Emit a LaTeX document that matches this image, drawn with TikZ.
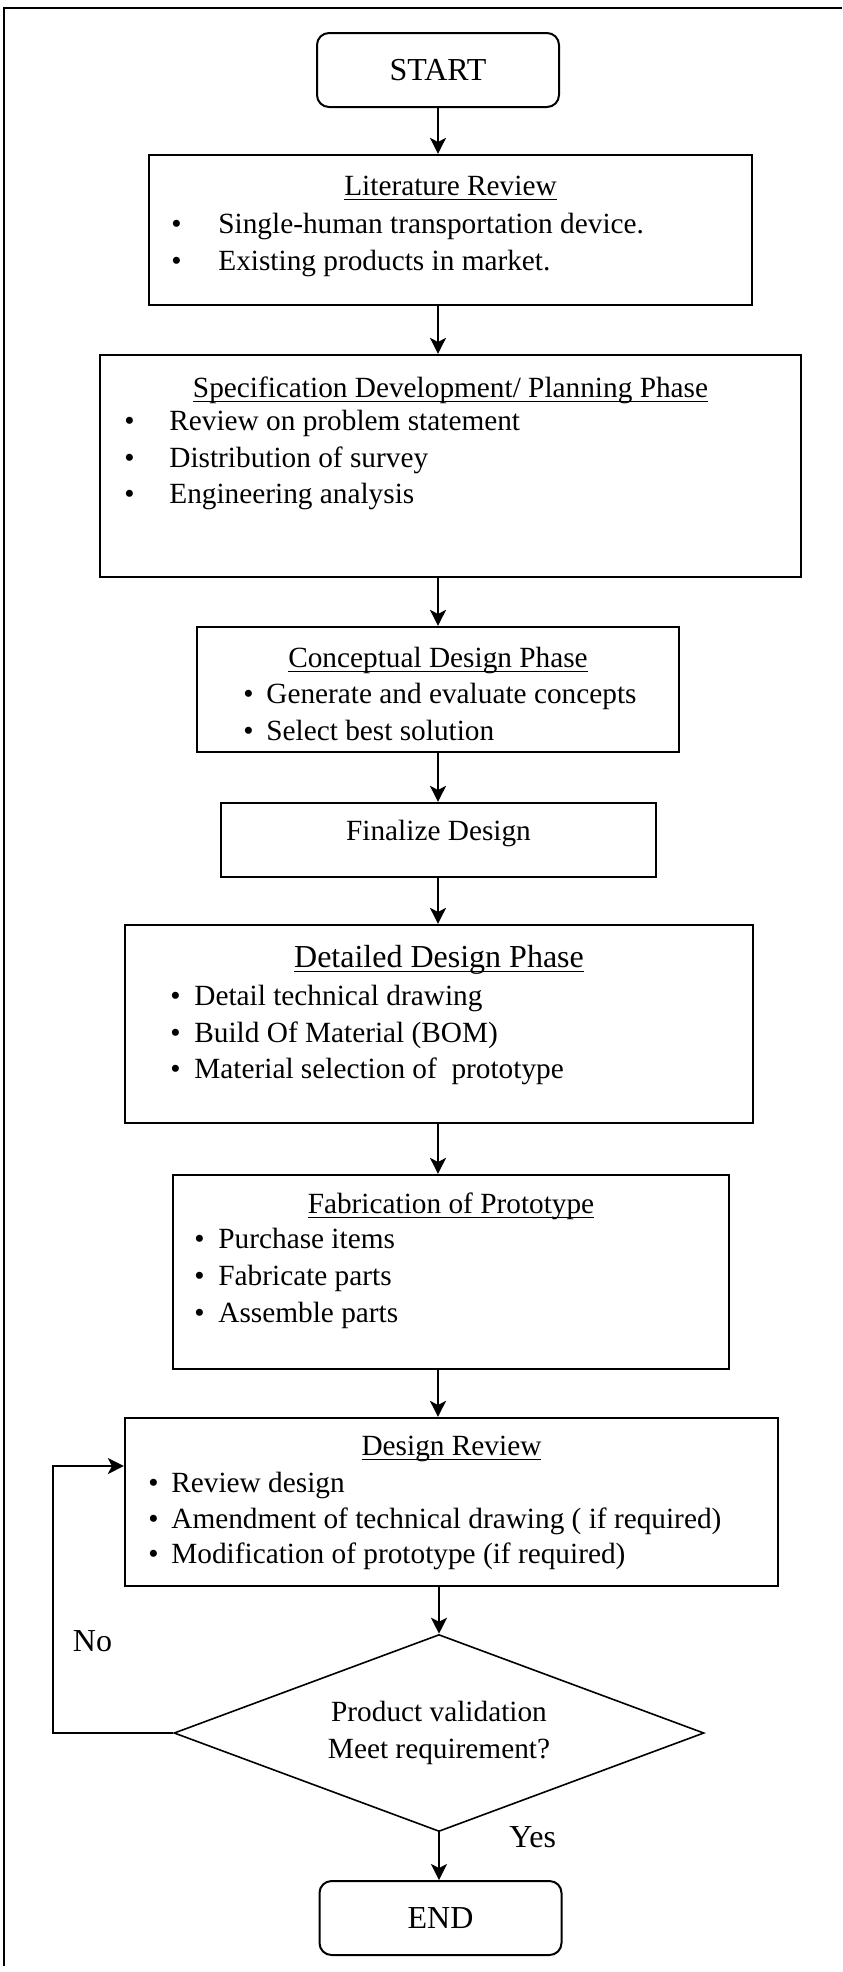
\documentclass[tikz,border=0pt]{standalone}
\usepackage{fontspec}
\setmainfont{Liberation Serif}
\usetikzlibrary{shapes.geometric,arrows.meta}
\newcommand{\bul}[1]{\makebox[#1][l]{•}}
\newsavebox{\ulbox}
\newcommand{\uln}[1]{\sbox{\ulbox}{#1}\rlap{\rule[-2.5pt]{\wd\ulbox}{0.7pt}}\usebox{\ulbox}}

\tikzset{
  box/.style={draw, line width=1.1pt, inner sep=0pt},
  term/.style={draw, line width=1pt, rounded corners=6pt, minimum width=121pt, minimum height=37pt, font=\fontsize{16}{19}\selectfont},
  ttl/.style={font=\fontsize{14.65}{18}\selectfont, inner sep=0pt, anchor=base},
  txt/.style={font=\fontsize{14.65}{18}\selectfont, inner sep=0pt, anchor=base west},
  lbl/.style={font=\fontsize{16}{19}\selectfont, inner sep=0pt, anchor=base west},
  arr/.style={-{Stealth[length=8pt,width=8pt,inset=2pt]}, line width=0.9pt},
}

\begin{document}
\begin{tikzpicture}[x=0.5pt, y=-0.5pt]
    \useasboundingbox (0,0) rectangle (842,1972);
    \draw[line width=0.75pt] (4,1966) -- (4,8) -- (842,8); % frame

    \node[term] (start) at (438,70) {START};

    \node[box, minimum width=301.5pt, minimum height=75pt] (lit) at (450.5,230) {};
    \node[ttl] (litT) at (450.5,195) {\uln{Literature Review}};
    \node[txt] (lit1) at (171,233) {\bul{23.5pt}Single-human transportation device.};
    \node[txt] (lit2) at (171,270) {\bul{23.5pt}Existing products in market.};

    \node[box, minimum width=350.5pt, minimum height=111pt] (spec) at (450.5,466) {};
    \node[ttl] (specT) at (450.5,397) {\uln{Specification Development/ Planning Phase}};
    \node[txt] (spec1) at (124,430) {\bul{22.5pt}Review on problem statement};
    \node[txt] (spec2) at (124,467) {\bul{22.5pt}Distribution of survey};
    \node[txt] (spec3) at (124,503) {\bul{22.5pt}Engineering analysis};

    \node[box, minimum width=241pt, minimum height=62.5pt] (conc) at (438,689.5) {};
    \node[ttl] (concT) at (438,667) {\uln{Conceptual Design Phase}};
    \node[txt] (conc1) at (243,703) {\bul{11.5pt}Generate and evaluate concepts};
    \node[txt] (conc2) at (243,740) {\bul{11.5pt}Select best solution};

    \node[box, minimum width=217.5pt, minimum height=37pt] (final) at (438.5,840) {};
    \node[ttl] (finalT) at (438.5,840) {Finalize Design};

    \node[box, minimum width=314pt, minimum height=99pt] (det) at (439,1024) {};
    \node[ttl, font=\fontsize{16}{19}\selectfont] (detT) at (439,967) {\uln{Detailed Design Phase}};
    \node[txt] (det1) at (170,1005) {\bul{12pt}Detail technical drawing};
    \node[txt] (det2) at (170,1042) {\bul{12pt}Build Of Material (BOM)};
    \node[txt] (det3) at (170,1078) {\bul{12pt}Material selection of\ \ prototype};

    \node[box, minimum width=278pt, minimum height=97pt] (fab) at (451,1272) {};
    \node[ttl] (fabT) at (451,1213) {\uln{Fabrication of Prototype}};
    \node[txt] (fab1) at (194,1248) {\bul{12pt}Purchase items};
    \node[txt] (fab2) at (194,1285) {\bul{12pt}Fabricate parts};
    \node[txt] (fab3) at (194,1322) {\bul{12pt}Assemble parts};

    \node[box, minimum width=326.5pt, minimum height=84pt] (rev) at (451.5,1502) {};
    \node[ttl] (revT) at (451.5,1455) {\uln{Design Review}};
    \node[txt] (rev1) at (148,1492) {\bul{11.5pt}Review design};
    \node[txt] (rev2) at (148,1528) {\bul{11.5pt}Amendment of technical drawing ( if required)};
    \node[txt] (rev3) at (148,1563) {\bul{11.5pt}Modification of prototype (if required)};

    \node[diamond, draw, line width=0.8pt, shape aspect=2.69, inner sep=1pt, minimum width=265pt, minimum height=98.5pt, align=center,
          font=\fontsize{14.65}{18.5}\selectfont] (check) at (439,1733) {Product validation\\Meet requirement?};

    \node[term] (end) at (440.5,1918) {END};

    \node[lbl] (no) at (72.5,1651) {No};
    \node[lbl] (yes) at (509,1847) {Yes};

    \draw[arr] (start) -- (start |- lit.north);
    \draw[arr] (lit.south -| start) -- (start |- spec.north);
    \draw[arr] (spec.south -| start) -- (start |- conc.north);
    \draw[arr] (conc.south -| start) -- (start |- final.north);
    \draw[arr] (final.south -| start) -- (start |- det.north);
    \draw[arr] (det.south -| start) -- (start |- fab.north);
    \draw[arr] (fab.south -| start) -- (start |- rev.north);
    \draw[arr] (rev.south -| check) -- (check.north);
    \draw[arr] (check.south) -- (check.south |- end.north);

    \coordinate (loop) at (53,1466);
    \draw[arr] (check.west) -| (loop) -- (rev.west |- loop);
\end{tikzpicture}
\end{document}
